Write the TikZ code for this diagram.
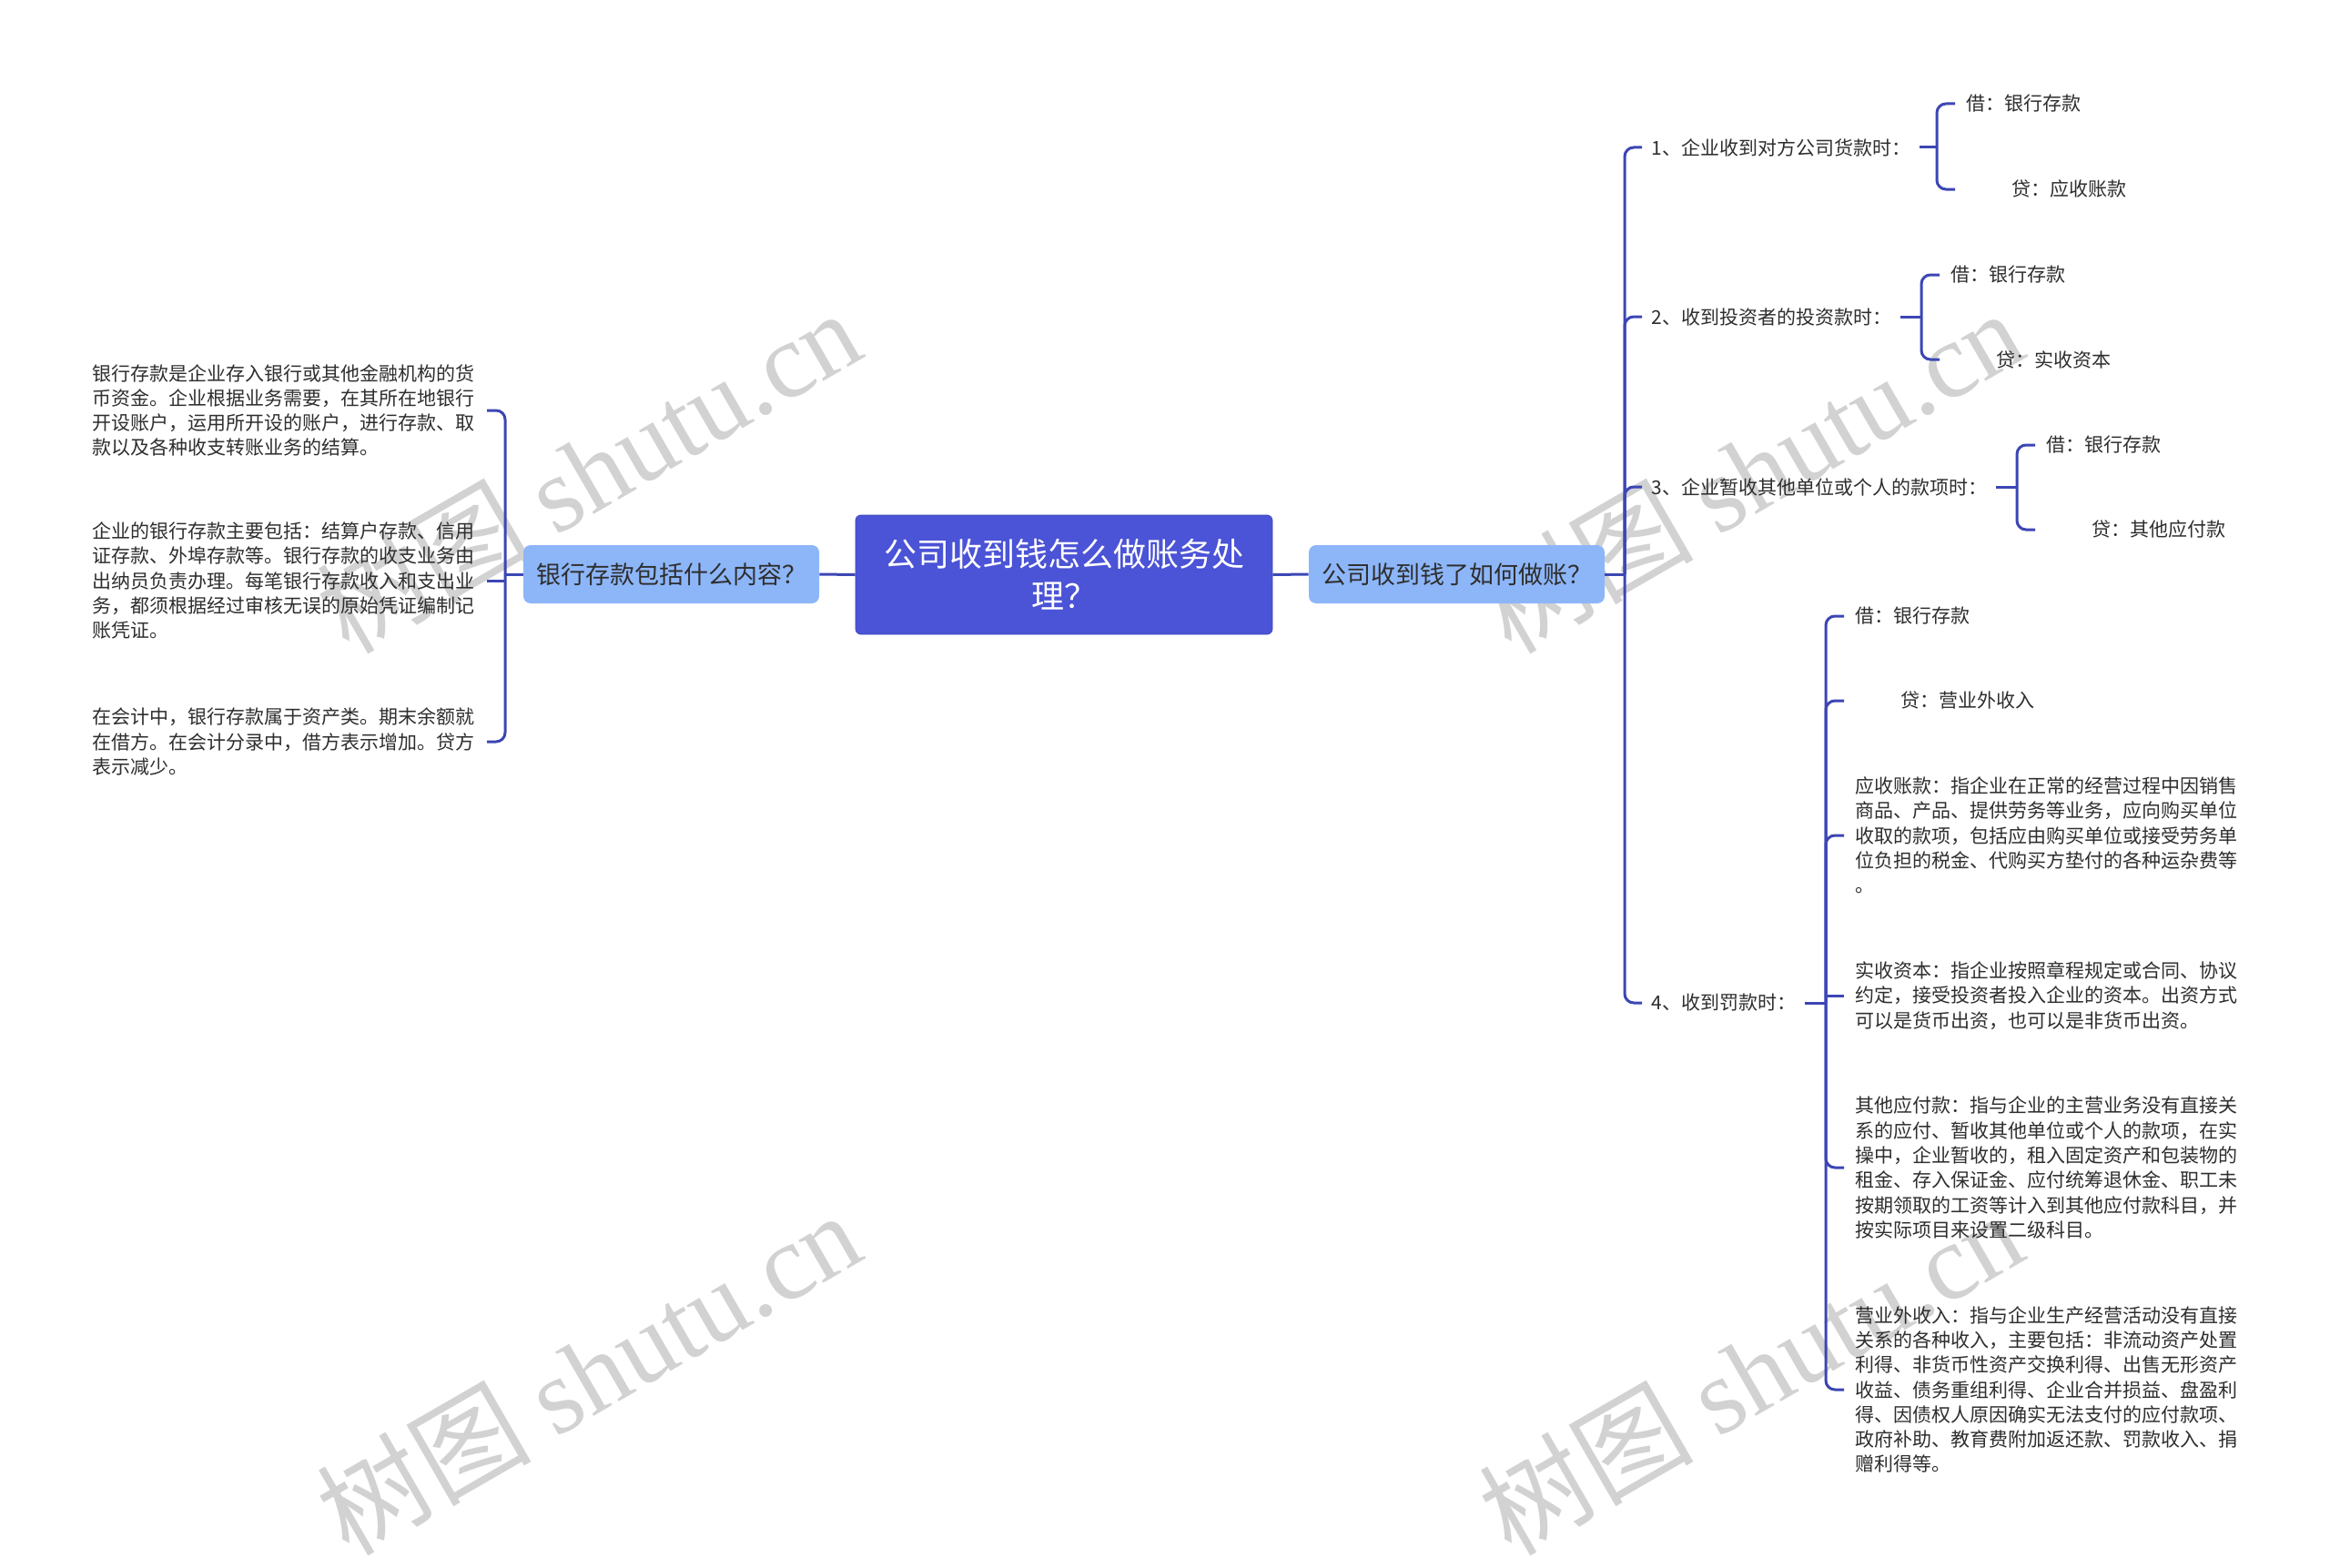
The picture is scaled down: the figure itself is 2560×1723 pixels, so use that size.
\documentclass[tikz,border=0pt]{standalone}
\usepackage{fontspec}
\setmainfont{Noto Sans CJK SC}
\newfontfamily\wmserif{Liberation Serif}
\usetikzlibrary{calc}
\definecolor{rootc}{HTML}{4B53D6}
\definecolor{lonec}{HTML}{8DB6F9}
\definecolor{linec}{HTML}{3C46B4}
\definecolor{txtc}{HTML}{2E2E2E}
\definecolor{wmc}{HTML}{D2D2D2}
\begin{document}
\begin{tikzpicture}[x=0.5pt,y=-0.5pt,
  conn/.style={draw=linec,line width=1.5pt,rounded corners=5pt},
  rootbox/.style={fill=rootc,draw=rootc!85!black,line width=0.4pt,rounded corners=3pt,text=white,font=\fontsize{18pt}{23pt}\selectfont,align=center,minimum width=229pt,minimum height=65.5pt,inner sep=0pt},
  lonebox/.style={fill=lonec,rounded corners=4pt,text=txtc,font=\fontsize{13.5pt}{16pt}\selectfont,minimum width=162.5pt,minimum height=32pt,inner sep=0pt},
  ltwo/.style={text=txtc,font=\fontsize{10.5pt}{13.65pt}\selectfont,inner xsep=5pt,inner ysep=2pt,anchor=west},
  leaf/.style={text=txtc,font=\fontsize{10.5pt}{13.65pt}\selectfont,inner xsep=6pt,inner ysep=2pt,anchor=west},
  para/.style={text=txtc,font=\fontsize{10.5pt}{13.65pt}\selectfont,inner xsep=6pt,inner ysep=2pt,align=left,text width=210.5pt},
  wm/.style={text=wmc,rotate=30,font=\fontsize{59pt}{59pt}\selectfont}
]
\useasboundingbox (0,0) rectangle (2560,1723);
\fill[white] (0,0) rectangle (2560,1723);

% watermarks
\node[wm] (wm1) at (646,517) {树图 {\wmserif shutu.cn}};
\node[wm] (wm2) at (1923,517) {树图 {\wmserif shutu.cn}};
\node[wm] (wm3) at (646,1508) {树图 {\wmserif shutu.cn}};
\node[wm] (wm4) at (1923,1508) {树图 {\wmserif shutu.cn}};

% main nodes
\node[rootbox] (root) at (1169,631.5) {公司收到钱怎么做账务处\\理？};
\node[lonebox] (L) at (737.5,631) {银行存款包括什么内容？};
\node[lonebox] (R) at (1600.5,631) {公司收到钱了如何做账？};
\draw[conn] (root.west) -- (L.east);
\draw[conn] (root.east) -- (R.west);

% left side
\coordinate (jl) at (555,631);
\draw[conn] (L.west) -- (jl);
\node[para,anchor=east] (l1) at (535,451) {银行存款是企业存入银行或其他金融机构的货\\币资金。企业根据业务需要，在其所在地银行\\开设账户，运用所开设的账户，进行存款、取\\款以及各种收支转账业务的结算。};
\node[para,anchor=east] (l2) at (535,638) {企业的银行存款主要包括：结算户存款、信用\\证存款、外埠存款等。银行存款的收支业务由\\出纳员负责办理。每笔银行存款收入和支出业\\务，都须根据经过审核无误的原始凭证编制记\\账凭证。};
\node[para,anchor=east] (l3) at (535,815) {在会计中，银行存款属于资产类。期末余额就\\在借方。在会计分录中，借方表示增加。贷方\\表示减少。};
\draw[conn] (jl) |- (l1.east);
\draw[conn] (l2.east -| jl) -- (l2.east);
\draw[conn] (jl) |- (l3.east);

% right side
\coordinate (jr) at (1785,631);
\draw[conn] (R.east) -- (jr);
\node[ltwo] (a) at (1804,162) {1、企业收到对方公司货款时：};
\node[ltwo] (b) at (1804,348) {2、收到投资者的投资款时：};
\node[ltwo] (c) at (1804,535) {3、企业暂收其他单位或个人的款项时：};
\node[ltwo] (d) at (1804,1102) {4、收到罚款时：};
\foreach \n in {a,b,c,d} \draw[conn] (jr) |- (\n.west);

% 1
\coordinate (ja) at (2128,162);
\draw[conn] (a.east) -- (ja);
\node[leaf] (a1) at (2148,114) {借：银行存款};
\node[leaf] (a2) at (2148,208) {\hspace*{25pt}贷：应收账款};
\draw[conn] (ja) |- (a1.west);
\draw[conn] (ja) |- (a2.west);

% 2
\coordinate (jb) at (2111,348);
\draw[conn] (b.east) -- (jb);
\node[leaf] (b1) at (2131,302) {借：银行存款};
\node[leaf] (b2) at (2131,395) {\hspace*{25pt}贷：实收资本};
\draw[conn] (jb) |- (b1.west);
\draw[conn] (jb) |- (b2.west);

% 3
\coordinate (jc) at (2216,535);
\draw[conn] (c.east) -- (jc);
\node[leaf] (c1) at (2236,489) {借：银行存款};
\node[leaf] (c2) at (2236,582) {\hspace*{25pt}贷：其他应付款};
\draw[conn] (jc) |- (c1.west);
\draw[conn] (jc) |- (c2.west);

% 4
\coordinate (jd) at (2006,1102);
\draw[conn] (d.east) -- (jd);
\node[leaf] (d1) at (2026,677) {借：银行存款};
\node[leaf] (d2) at (2026,770) {\hspace*{25pt}贷：营业外收入};
\node[para,anchor=west] (d3) at (2026,918) {应收账款：指企业在正常的经营过程中因销售\\商品、产品、提供劳务等业务，应向购买单位\\收取的款项，包括应由购买单位或接受劳务单\\位负担的税金、代购买方垫付的各种运杂费等\\。};
\node[para,anchor=west] (d4) at (2026,1094) {实收资本：指企业按照章程规定或合同、协议\\约定，接受投资者投入企业的资本。出资方式\\可以是货币出资，也可以是非货币出资。};
\node[para,anchor=west] (d5) at (2026,1283) {其他应付款：指与企业的主营业务没有直接关\\系的应付、暂收其他单位或个人的款项，在实\\操中，企业暂收的，租入固定资产和包装物的\\租金、存入保证金、应付统筹退休金、职工未\\按期领取的工资等计入到其他应付款科目，并\\按实际项目来设置二级科目。};
\node[para,anchor=west] (d6) at (2026,1527) {营业外收入：指与企业生产经营活动没有直接\\关系的各种收入，主要包括：非流动资产处置\\利得、非货币性资产交换利得、出售无形资产\\收益、债务重组利得、企业合并损益、盘盈利\\得、因债权人原因确实无法支付的应付款项、\\政府补助、教育费附加返还款、罚款收入、捐\\赠利得等。};
\draw[conn] (jd) |- (d1.west);
\draw[conn] (jd) |- (d2.west);
\draw[conn] (jd) |- (d3.west);
\draw[conn] (d4.west -| jd) -- (d4.west);
\draw[conn] (jd) |- (d5.west);
\draw[conn] (jd) |- (d6.west);
\end{tikzpicture}
\end{document}
